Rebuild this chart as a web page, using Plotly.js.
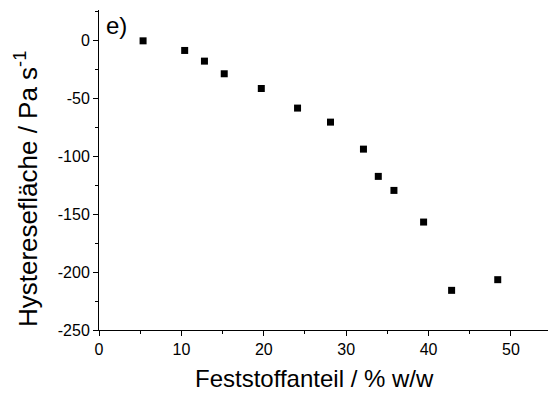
<!DOCTYPE html>
<html>
<head>
<meta charset="utf-8">
<script src="https://cdn.plot.ly/plotly-3.0.1.min.js"></script>
<style>html,body{margin:0;padding:0;background:#fff}#chart{width:548px;height:394px}</style>
</head>
<body>
<div id="chart"></div>
<script>
const solidsContent = [5.35, 10.4, 12.8, 15.2, 19.7, 24.1, 28.1, 32.1, 33.9, 35.8, 39.4, 42.8, 48.4];
const hysteresisArea = [-0.6, -8.9, -18.1, -29, -41.7, -58.6, -70.7, -94, -117.5, -129.6, -156.9, -215.8, -206.6];
const xTickValues = [0, 10, 20, 30, 40, 50];
const yTickValues = [0, -50, -100, -150, -200, -250];
const yTickLabels = ['0', '-50', '-100', '-150', '-200', '-250'];

const font = 'Liberation Sans, Arial, sans-serif';
const trace = {
  x: solidsContent, y: hysteresisArea, type: 'scatter', mode: 'markers',
  marker: {symbol: 'square', size: 7, color: '#000'},
  showlegend: false, hoverinfo: 'skip'
};
const layout = {
  width: 548, height: 394,
  margin: {l: 99, r: 0, t: 10, b: 64},
  paper_bgcolor: '#fff', plot_bgcolor: '#fff',
  font: {family: font, color: '#000'},
  xaxis: {
    range: [0, 54.5], tickvals: xTickValues, ticks: 'outside', ticklen: 5, tickwidth: 1, tickcolor: '#000',
    minor: {dtick: 5, tick0: 0, ticks: 'outside', ticklen: 3, tickcolor: '#000'},
    showline: true, linecolor: '#000', linewidth: 1, showgrid: false, zeroline: false,
    tickfont: {size: 16, family: font}
  },
  yaxis: {
    range: [-250, 26], tickvals: yTickValues, ticktext: yTickLabels,
    ticks: 'outside', ticklen: 5, tickwidth: 1, tickcolor: '#000',
    minor: {dtick: 25, tick0: 0, ticks: 'outside', ticklen: 3, tickcolor: '#000'},
    showline: true, linecolor: '#000', linewidth: 1, showgrid: false, zeroline: false,
    tickfont: {size: 16, family: font}
  },
  annotations: [{
    text: 'e)', xref: 'paper', yref: 'paper', x: 0.012, y: 1.0, xanchor: 'left', yanchor: 'top',
    showarrow: false, font: {size: 24, family: font}
  }, {
    text: 'Feststoffanteil / % w/w', xref: 'paper', yref: 'paper', x: 0.479, y: -0.15,
    xanchor: 'center', yanchor: 'middle', showarrow: false, font: {size: 24, family: font}
  }, {
    text: 'Hystereseflӓche / Pa s<sup>-1</sup>'.replace('ӓ','ä'), xref: 'paper', yref: 'paper',
    x: -0.163, y: 0.44, xanchor: 'center', yanchor: 'middle', textangle: -90,
    showarrow: false, font: {size: 26, family: font}
  }]
};
Plotly.newPlot('chart', [trace], layout, {staticPlot: true, displayModeBar: false});
</script>
</body>
</html>
